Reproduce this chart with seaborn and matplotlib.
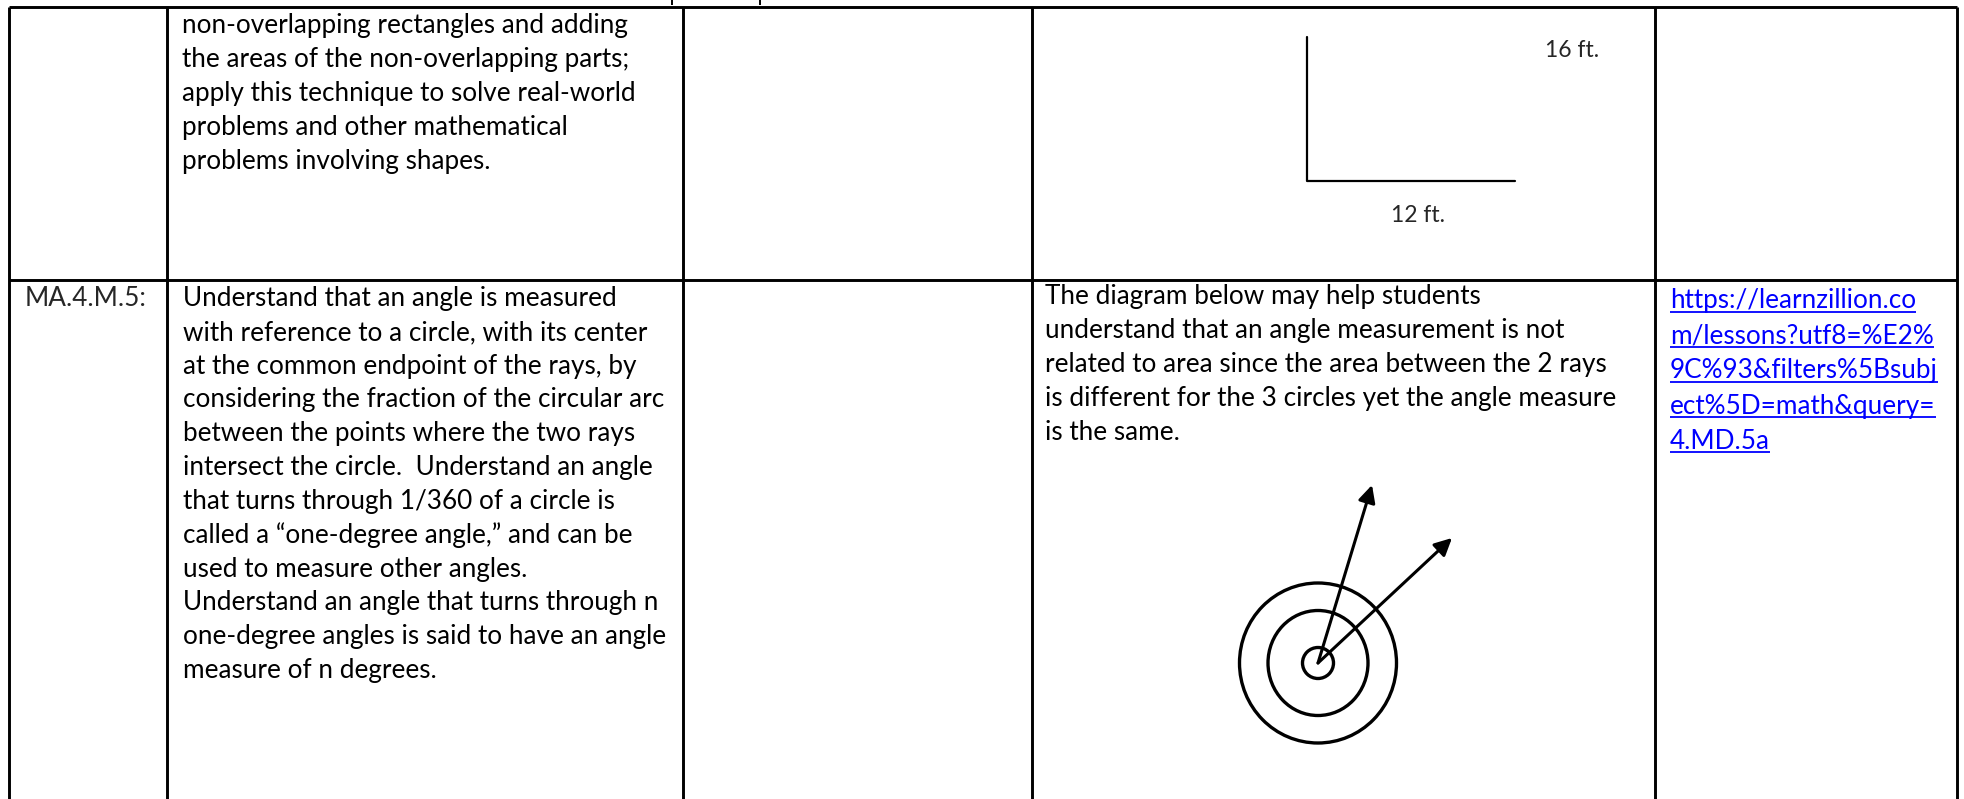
import warnings
warnings.filterwarnings('ignore')

import matplotlib
matplotlib.use("Agg")
import matplotlib.pyplot as plt
from matplotlib.patches import Ellipse
import seaborn as sns

# Cell contents
row1_standard = [
    "non-overlapping rectangles and adding",
    "the areas of the non-overlapping parts;",
    "apply this technique to solve real-world",
    "problems and other mathematical",
    "problems involving shapes.",
]
row2_code = "MA.4.M.5:"
row2_standard = [
    "Understand that an angle is measured",
    "with reference to a circle, with its center",
    "at the common endpoint of the rays, by",
    "considering the fraction of the circular arc",
    "between the points where the two rays",
    "intersect the circle.  Understand an angle",
    "that turns through 1/360 of a circle is",
    "called a \u201cone-degree angle,\u201d and can be",
    "used to measure other angles.",
    "Understand an angle that turns through n",
    "one-degree angles is said to have an angle",
    "measure of n degrees.",
]
row2_example = [
    "The diagram below may help students",
    "understand that an angle measurement is not",
    "related to area since the area between the 2 rays",
    "is different for the 3 circles yet the angle measure",
    "is the same.",
]
row2_link = [
    "https://learnzillion.co",
    "m/lessons?utf8=%E2%",
    "9C%93&filters%5Bsubj",
    "ect%5D=math&query=",
    "4.MD.5a",
]
dimension_labels = ["16 ft.", "12 ft."]

# Page layout (pixels)
W, H, DPI = 1965, 799, 100
col_edges = [9, 167, 683, 1032, 1655, 1957]
top_y, row_sep = 7, 280
line_step, link_step = 34.1, 35.2

sns.set_theme(style="white")
plt.rcParams['font.family'] = ['Lato', 'DejaVu Sans']

fig = plt.figure(figsize=(W / DPI, H / DPI), dpi=DPI)
ax = fig.add_axes([0, 0, 1, 1])
ax.set_xlim(0, W)
ax.set_ylim(H, 0)
ax.axis('off')
renderer = fig.canvas.get_renderer()


def fit_size(s, target_px):
    t = ax.text(0, 0, s, fontsize=20)
    w = t.get_window_extent(renderer=renderer).width
    t.remove()
    return 20 * target_px / w


body_fs = fit_size(row1_standard[0], 445)
label_fs = fit_size(dimension_labels[0], 54)


def put_lines(lines, x, y0, step, color='black'):
    out = []
    for k, s in enumerate(lines):
        out.append(ax.text(x, y0 + k * step, s, ha='left', va='baseline',
                           fontsize=body_fs, color=color))
    return out


# table grid
grid_lw = 2.1
ax.hlines([top_y, row_sep], col_edges[0], col_edges[-1], color='black', lw=grid_lw)
ax.vlines(col_edges, top_y, H + 5, color='black', lw=grid_lw)

# descender stubs of the previous page row peeking above the top rule
ax.vlines([672, 760], 0, 4.5, color='black', lw=1.4)

# row 1
put_lines(row1_standard, 182, 33, line_step)
sns.lineplot(x=[1307, 1307, 1515], y=[37, 181, 181], sort=False, estimator=None,
             color='black', lw=1.6, ax=ax)
ax.text(1545, 57, dimension_labels[0], ha='left', va='baseline', fontsize=label_fs)
ax.text(1391, 222, dimension_labels[1], ha='left', va='baseline', fontsize=label_fs)

# row 2
ax.text(25, 306, row2_code, ha='left', va='baseline', fontsize=body_fs)
put_lines(row2_standard, 183, 306, line_step * 0.992)
put_lines(row2_example, 1045, 304, line_step)
links = put_lines(row2_link, 1670, 308, link_step, color='#0000FF')
for t in links:
    bb = t.get_window_extent(renderer=renderer).transformed(ax.transData.inverted())
    ax.hlines(t.get_position()[1] + 3.5, bb.x0, bb.x1, color='#0000FF', lw=1.3)

# concentric circles with two rays
cx, cy = 1318, 663
for w_, h_ in [(31, 31), (100, 105), (157, 160)]:
    ax.add_patch(Ellipse((cx, cy), w_, h_, fill=False, ec='black', lw=2.4))
for tip in [(1372, 485), (1452, 538)]:
    ax.annotate('', xy=tip, xytext=(cx, cy),
                arrowprops=dict(arrowstyle='-|>', color='black', lw=2.2,
                                mutation_scale=26, shrinkA=0, shrinkB=0))

ax.set_xlim(0, W)
ax.set_ylim(H, 0)
fig.savefig("out.png", dpi=DPI)
plt.close()
